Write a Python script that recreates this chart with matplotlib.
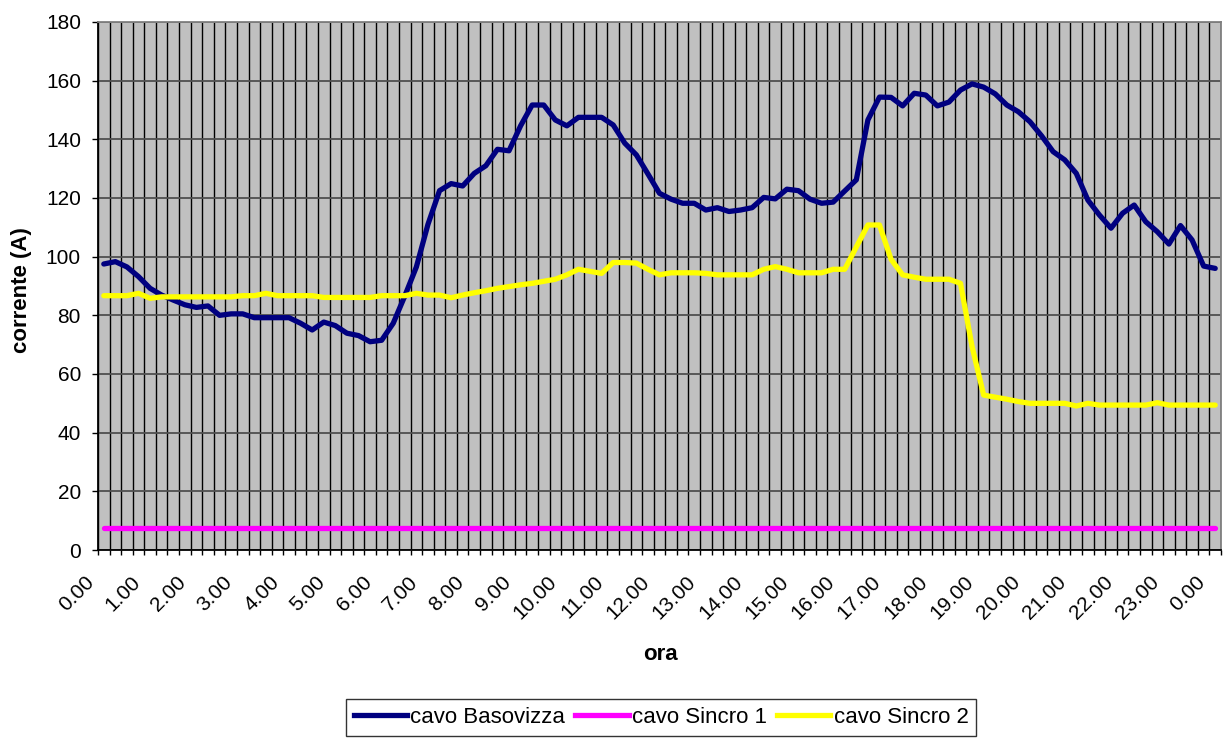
import matplotlib
matplotlib.use('Agg')
import matplotlib.pyplot as plt
from matplotlib.transforms import ScaledTranslation
from matplotlib.lines import Line2D

# ---------------- data (15-minute readings, 0.00 -> 24.00) ----------------
hour_labels = ["0.00", "1.00", "2.00", "3.00", "4.00", "5.00", "6.00", "7.00",
               "8.00", "9.00", "10.00", "11.00", "12.00", "13.00", "14.00",
               "15.00", "16.00", "17.00", "18.00", "19.00", "20.00", "21.00",
               "22.00", "23.00", "0.00"]

basovizza = [97.5, 98.3, 96.5, 93.2, 89.2, 86.9, 85.2, 83.6,
             82.7, 83.2, 80.0, 80.5, 80.5, 79.2, 79.2, 79.2,
             79.2, 77.3, 75.0, 77.7, 76.5, 73.9, 73.1, 71.0,
             71.5, 77.3, 86.6, 96.5, 111.0, 122.5, 124.9, 124.1,
             128.4, 131.0, 136.6, 136.1, 144.6, 151.7, 151.7, 146.6,
             144.6, 147.5, 147.5, 147.5, 144.9, 138.7, 134.7, 128.2,
             121.6, 119.6, 118.2, 118.2, 115.9, 116.7, 115.4, 115.9,
             116.7, 120.2, 119.7, 123.0, 122.5, 119.6, 118.2, 118.6,
             122.4, 126.2, 146.6, 154.4, 154.3, 151.4, 155.7, 155.1,
             151.4, 152.7, 156.8, 158.9, 157.8, 155.5, 151.7, 149.4,
             146.0, 141.2, 135.8, 133.0, 128.4, 119.3, 114.2, 109.7,
             114.8, 117.6, 111.9, 108.5, 104.3, 110.6, 105.7, 96.8,
             96.0]

sincro1 = [7.5, 7.5, 7.5, 7.5, 7.5, 7.5, 7.5, 7.5,
           7.5, 7.5, 7.5, 7.5, 7.5, 7.5, 7.5, 7.5,
           7.5, 7.5, 7.5, 7.5, 7.5, 7.5, 7.5, 7.5,
           7.5, 7.5, 7.5, 7.5, 7.5, 7.5, 7.5, 7.5,
           7.5, 7.5, 7.5, 7.5, 7.5, 7.5, 7.5, 7.5,
           7.5, 7.5, 7.5, 7.5, 7.5, 7.5, 7.5, 7.5,
           7.5, 7.5, 7.5, 7.5, 7.5, 7.5, 7.5, 7.5,
           7.5, 7.5, 7.5, 7.5, 7.5, 7.5, 7.5, 7.5,
           7.5, 7.5, 7.5, 7.5, 7.5, 7.5, 7.5, 7.5,
           7.5, 7.5, 7.5, 7.5, 7.5, 7.5, 7.5, 7.5,
           7.5, 7.5, 7.5, 7.5, 7.5, 7.5, 7.5, 7.5,
           7.5, 7.5, 7.5, 7.5, 7.5, 7.5, 7.5, 7.5,
           7.5]

sincro2 = [86.7, 86.7, 86.7, 87.5, 85.8, 86.3, 86.3, 86.3,
           86.3, 86.3, 86.3, 86.3, 86.7, 86.7, 87.5, 86.7,
           86.7, 86.7, 86.7, 86.1, 86.1, 86.1, 86.1, 86.1,
           86.7, 86.7, 86.7, 87.5, 86.9, 86.9, 86.0, 86.9,
           87.7, 88.4, 89.2, 89.8, 90.4, 90.9, 91.6, 92.3,
           93.8, 95.7, 95.0, 94.3, 98.0, 98.0, 97.8, 95.7,
           93.8, 94.5, 94.5, 94.5, 94.3, 93.8, 93.8, 93.8,
           93.8, 95.7, 96.6, 95.7, 94.5, 94.5, 94.5, 95.7,
           95.7, 103.3, 110.8, 110.8, 99.1, 93.8, 93.0, 92.3,
           92.3, 92.3, 90.9, 69.3, 52.8, 52.1, 51.4, 50.6,
           50.0, 50.0, 50.0, 50.0, 49.1, 50.0, 49.4, 49.4,
           49.4, 49.4, 49.4, 50.2, 49.4, 49.4, 49.4, 49.4,
           49.4]

series_names = ["cavo Basovizza", "cavo Sincro 1", "cavo Sincro 2"]
series_colors = ["#000080", "#FF00FF", "#FFFF00"]

# ---------------- figure ----------------
plt.rcParams['font.family'] = ['Liberation Sans', 'DejaVu Sans']

W, H = 1224, 740
fig = plt.figure(figsize=(W / 100, H / 100), dpi=100)
ax = fig.add_axes([98 / W, 1 - 550 / H, 1123 / W, 528 / H])
ax.set_facecolor('#C0C0C0')

n = len(basovizza)
xs = list(range(n))
ax.set_xlim(-0.5, n - 0.5)
ax.set_ylim(0, 180)

# category boundaries: minor ticks + vertical grid
ax.set_xticks([i - 0.5 for i in range(n + 1)], minor=True)
ax.tick_params(axis='x', which='minor', length=3.6, width=1, color='black', direction='out')
ax.grid(True, which='minor', axis='x', color='black', linewidth=1)

# labels every hour
ax.set_xticks(list(range(0, n, 4)))
ax.set_xticklabels(hour_labels, rotation=45, ha='right', va='center', rotation_mode='anchor')
ax.tick_params(axis='x', which='major', length=0, pad=21, labelsize=15)
offset = ScaledTranslation(-13 / 100, 0, fig.dpi_scale_trans)
for lab in ax.get_xticklabels():
    lab.set_transform(lab.get_transform() + offset)

ax.set_yticks(list(range(0, 181, 20)))
ax.tick_params(axis='y', length=4.3, width=1, pad=8, labelsize=15)
ax.grid(True, which='major', axis='y', color='#505050', linewidth=1.3)
ax.set_axisbelow(True)

for side in ['left', 'bottom']:
    ax.spines[side].set_color('black')
    ax.spines[side].set_linewidth(1.3)
for side in ['top', 'right']:
    ax.spines[side].set_color('#808080')
    ax.spines[side].set_linewidth(1.3)

for vals, name, col in zip([basovizza, sincro1, sincro2], series_names, series_colors):
    ax.plot(xs, vals, color=col, linewidth=3.8, label=name,
            solid_joinstyle='round', solid_capstyle='round')

fig.text(22 / W, 1 - 290 / H, 'corrente (A)', rotation=90, ha='center', va='center',
         fontsize=16, fontweight='bold')
fig.text(660.5 / W, 1 - 655 / H, 'ora', ha='center', va='center',
         fontsize=16, fontweight='bold')

handles = [Line2D([], [], color=c, linewidth=3.8) for c in series_colors]
leg = fig.legend(handles, series_names, loc='upper left',
                 bbox_to_anchor=(346 / W, 1 - 699 / H), ncol=3, fontsize=16,
                 frameon=True, fancybox=False, edgecolor='black',
                 handlelength=2.4, handletextpad=0.15, columnspacing=0.45,
                 borderpad=0.35, borderaxespad=0)
leg.get_frame().set_linewidth(1)
leg.get_frame().set_facecolor('white')

fig.savefig('out.png', dpi=100)
